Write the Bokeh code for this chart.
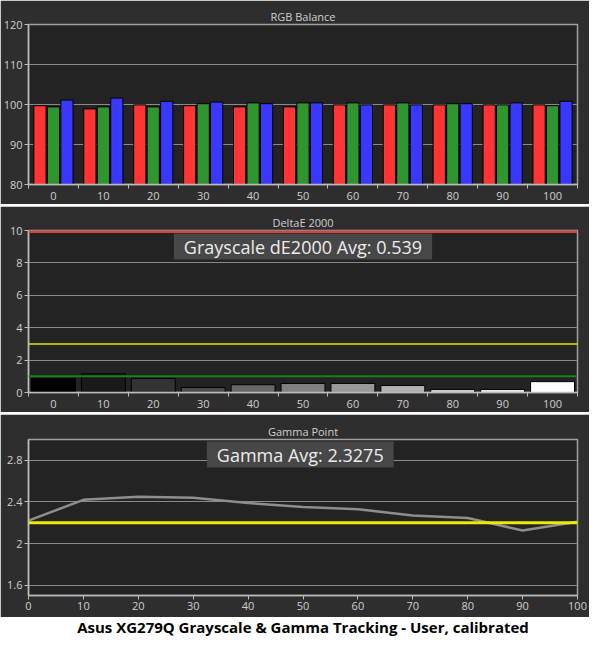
from bokeh.plotting import figure
from bokeh.layouts import column
from bokeh.models import (FixedTicker, Span, Label, Range1d, NumeralTickFormatter,
                          ColumnDataSource)
from bokeh.transform import dodge
from bokeh.embed import file_html
from bokeh.resources import INLINE

# ---------------- data ----------------
levels = [0, 10, 20, 30, 40, 50, 60, 70, 80, 90, 100]
level_labels = ["0", "10", "20", "30", "40", "50", "60", "70", "80", "90", "100"]
red = [99.7, 98.9, 99.9, 99.7, 99.4, 99.4, 99.9, 99.9, 99.9, 99.9, 99.9]
green = [99.4, 99.4, 99.4, 100.2, 100.4, 100.4, 100.4, 100.4, 100.2, 99.9, 99.7]
blue = [101.1, 101.6, 100.8, 100.6, 100.2, 100.4, 99.9, 99.9, 100.2, 100.4, 100.8]
delta_e = [0.87, 1.15, 0.87, 0.31, 0.48, 0.56, 0.56, 0.43, 0.19, 0.19, 0.67]
gamma = [2.22, 2.42, 2.45, 2.44, 2.39, 2.35, 2.33, 2.27, 2.245, 2.125, 2.21]
gamma_target = 2.2
de_limits = {"red": 10, "yellow": 3, "green": 1}
rgb_ticks = [80, 90, 100, 110, 120]
de_ticks = [0, 2, 4, 6, 8, 10]
gamma_ticks = [1.6, 2.0, 2.4, 2.8]
de_avg_text = "Grayscale dE2000 Avg: 0.539"
gamma_avg_text = "Gamma Avg: 2.3275"
chart_title = "Asus XG279Q Grayscale & Gamma Tracking - User, calibrated"

# ---------------- style ----------------
W = 589
BG = "#2e2e2e"
PLOT_BG = "#232323"
FONT = "Open Sans"
TXT = "#cfcfcf"
AX = "#bdbdbd"
GRID = "#8a8a8a"

idx = list(range(len(levels)))
overrides = {i: lab for i, lab in zip(idx, level_labels)}


def style(p, title_text):
    p.background_fill_color = PLOT_BG
    p.border_fill_color = BG
    p.outline_line_color = "#a0a0a0"
    p.outline_line_width = 1.5
    p.title.text = title_text
    p.title.align = "center"
    p.title.text_color = TXT
    p.title.text_font = FONT
    p.title.text_font_size = "11px"
    p.title.text_font_style = "normal"
    p.title.standoff = 2
    for ax in p.axis:
        ax.axis_line_color = AX
        ax.axis_line_width = 1.5
        ax.major_tick_line_color = AX
        ax.minor_tick_line_color = AX
        ax.major_label_text_color = TXT
        ax.major_label_text_font = FONT
        ax.major_label_text_font_size = "11px"
        ax.major_tick_in = 0
        ax.major_tick_out = 4
        ax.minor_tick_in = 0
        ax.minor_tick_out = 0
        ax.major_label_standoff = 2
    p.xgrid.visible = False
    p.ygrid.grid_line_color = GRID
    p.ygrid.grid_line_width = 1


def group_axis(p):
    ax = p.xaxis[0]
    ax.ticker = FixedTicker(ticks=idx, minor_ticks=[i - 0.5 for i in range(len(idx) + 1)])
    ax.major_label_overrides = overrides
    ax.major_tick_out = 0
    ax.minor_tick_out = 4
    ax.minor_tick_line_color = AX
    ax.major_label_standoff = 3


# ---------------- panel 1: RGB balance ----------------
p1 = figure(width=W, height=204, x_range=Range1d(-0.5, len(idx) - 0.5),
            y_range=Range1d(rgb_ticks[0], rgb_ticks[-1]),
            output_backend="svg", toolbar_location=None,
            min_border_left=26, min_border_right=12, min_border_top=24, min_border_bottom=20)
style(p1, "RGB Balance")
group_axis(p1)
p1.yaxis[0].ticker = FixedTicker(ticks=rgb_ticks)
src = ColumnDataSource(dict(x=idx, r=red, g=green, b=blue))
bw = 0.245
p1.vbar(x=dodge("x", -0.27, range=p1.x_range), top="r", bottom=rgb_ticks[0], width=bw,
        source=src, fill_color="#ff3434", line_color="black", line_width=1)
p1.vbar(x=dodge("x", 0.0, range=p1.x_range), top="g", bottom=rgb_ticks[0], width=bw,
        source=src, fill_color="#2f962f", line_color="black", line_width=1)
p1.vbar(x=dodge("x", 0.27, range=p1.x_range), top="b", bottom=rgb_ticks[0], width=bw,
        source=src, fill_color="#3838ff", line_color="black", line_width=1)

# ---------------- panel 2: DeltaE 2000 ----------------
p2 = figure(width=W, height=206, x_range=Range1d(-0.5, len(idx) - 0.5),
            y_range=Range1d(de_ticks[0], de_ticks[-1]),
            output_backend="svg", toolbar_location=None,
            min_border_left=20, min_border_right=12, min_border_top=24, min_border_bottom=20)
style(p2, "DeltaE 2000")
group_axis(p2)
p2.yaxis[0].ticker = FixedTicker(ticks=de_ticks)
grays = []
for lv in levels:
    g = int(round(255 * lv / 100))
    grays.append("#%02x%02x%02x" % (g, g, g))
src2 = ColumnDataSource(dict(x=idx, de=delta_e, c=grays))
p2.vbar(x="x", top="de", bottom=0, width=0.88, source=src2, fill_color="c",
        line_color="black", line_width=1)
p2.add_layout(Span(location=de_limits["yellow"], dimension="width", line_color="#e6e600", line_width=1.5))
p2.add_layout(Span(location=de_limits["green"], dimension="width", line_color="#1c7f1c", line_width=2))
p2.add_layout(Span(location=de_limits["red"], dimension="width", line_color="#c84646", line_width=5))
p2.add_layout(Label(x=5, y=de_ticks[-1], text=de_avg_text, text_align="center", text_baseline="top",
                    y_offset=-3, text_font=FONT, text_font_size="18px", text_color="#ececec",
                    background_fill_color="#474747", padding=(10, 1)))

# ---------------- panel 3: Gamma ----------------
p3 = figure(width=W, height=203, x_range=Range1d(levels[0], levels[-1]), y_range=Range1d(1.5, 3.0),
            output_backend="svg", toolbar_location=None,
            min_border_left=23, min_border_right=12, min_border_top=25, min_border_bottom=22)
style(p3, "Gamma Point")
p3.xaxis[0].ticker = FixedTicker(ticks=levels)
p3.yaxis[0].ticker = FixedTicker(ticks=gamma_ticks)
p3.yaxis[0].formatter = NumeralTickFormatter(format="0.[0]")
p3.line(levels, gamma, line_color="#8e8e8e", line_width=2.5)
p3.add_layout(Span(location=gamma_target, dimension="width", line_color="#ecec00", line_width=3))
p3.add_layout(Label(x=49.5, y=3.0, text=gamma_avg_text, text_align="center", text_baseline="top",
                    y_offset=-2, text_font=FONT, text_font_size="18px", text_color="#ececec",
                    background_fill_color="#474747", padding=(10, 1)))


def strip(h, color):
    s = figure(width=W, height=h, x_range=Range1d(0, 1), y_range=Range1d(0, 1),
               x_axis_type=None, y_axis_type=None, output_backend="svg", toolbar_location=None,
               min_border=0)
    s.background_fill_color = color
    s.border_fill_color = color
    s.outline_line_color = None
    s.grid.visible = False
    return s


sep1 = strip(2, "#e8e8e8")
sep2 = strip(2, "#e8e8e8")
tp = strip(19, "white")
tp.add_layout(Label(x=0.5, y=0.5, text=chart_title, text_align="center", text_baseline="middle",
                    text_font=FONT, text_font_size="15px", text_font_style="bold", text_color="black"))

layout = column(p1, sep1, p2, sep2, p3, tp, spacing=0)
open("out.html", "w").write(file_html(layout, INLINE))
